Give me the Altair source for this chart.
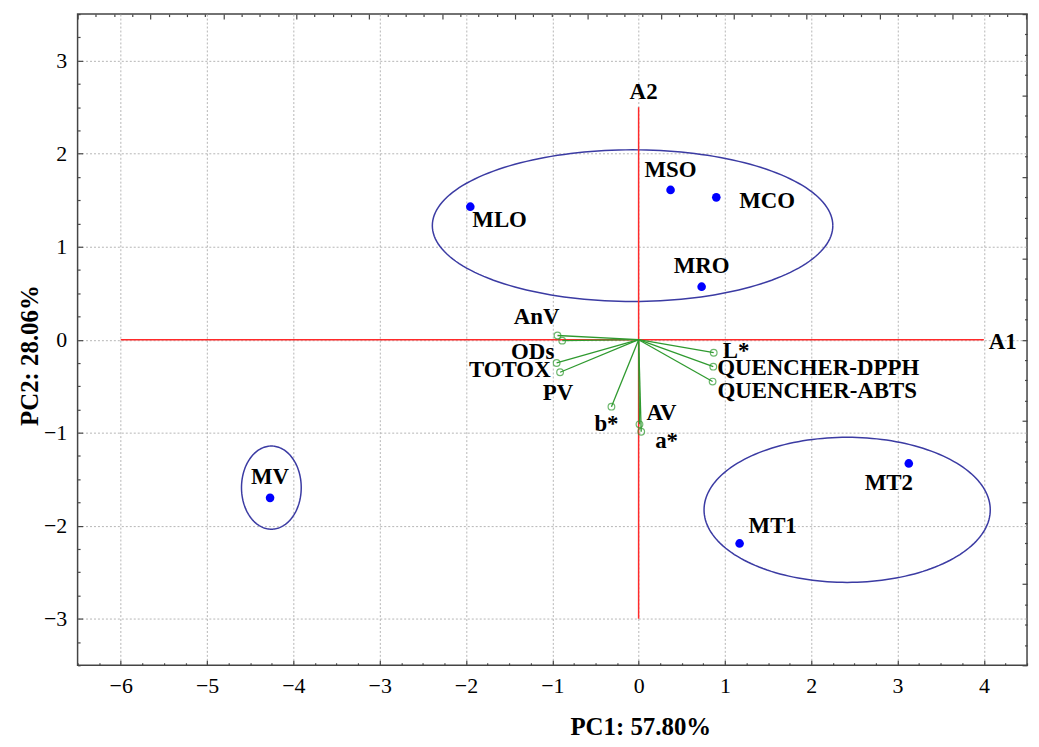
import altair as alt
import numpy as np
import pandas as pd

# ---------------- data ----------------
score_names = ["MLO", "MSO", "MCO", "MRO", "MV", "MT1", "MT2"]
score_pc1 = [-1.95, 0.37, 0.90, 0.73, -4.27, 1.17, 3.13]
score_pc2 = [1.43, 1.61, 1.53, 0.57, -1.70, -2.19, -1.33]

var_names = ["AnV", "ODs", "TOTOX", "PV", "b*", "AV", "a*", "L*",
             "QUENCHER-DPPH", "QUENCHER-ABTS"]
var_pc1 = [-0.94, -0.885, -0.95, -0.91, -0.315, 0.01, 0.03, 0.87, 0.865, 0.857]
var_pc2 = [0.045, -0.01, -0.25, -0.35, -0.72, -0.91, -0.99, -0.14, -0.29, -0.45]

ellipse_cx = [-0.07, -4.255, 2.416]
ellipse_cy = [1.226, -1.59, -1.829]
ellipse_rx = [2.32, 0.346, 1.658]
ellipse_ry = [0.815, 0.447, 0.780]

a1_x = [-6, 4]      # A1 line extent
a2_y = [-3, 2.5]    # A2 line extent

x_ticks = list(range(-6, 5))
y_ticks = list(range(-3, 4))

# ---------------- style ----------------
FONT = "Liberation Serif"
BLUE = "#0000ff"
NAVY = "#3b3ba3"
RED = "#ff2a2a"
GREEN = "#2f9a2f"

# label placement: (align, dx, dy)
score_place = {
    "MLO": ("left", 2, 13), "MSO": ("center", 0, -20), "MCO": ("left", 23, 4),
    "MRO": ("center", 0, -21), "MV": ("center", 0, -21), "MT1": ("left", 9, -17),
    "MT2": ("center", -20, 20),
}
var_place = {
    "AnV": ("right", 2, -19), "ODs": ("right", -8, 11), "TOTOX": ("right", -6, 7),
    "PV": ("center", -2, 21), "b*": ("center", -5, 17), "AV": ("left", 7, -11),
    "a*": ("left", 14, 9), "L*": ("left", 9, -2), "QUENCHER-DPPH": ("left", 4, 1),
    "QUENCHER-ABTS": ("left", 5, 10),
}

# ---------------- tables ----------------
scores = pd.DataFrame({"name": score_names, "pc1": score_pc1, "pc2": score_pc2})
loads = pd.DataFrame({"name": var_names, "pc1": var_pc1, "pc2": var_pc2,
                      "x0": 0.0, "y0": 0.0})

theta = np.linspace(0, 2 * np.pi, 181)
rows = []
for i, (cx, cy, rx, ry) in enumerate(zip(ellipse_cx, ellipse_cy, ellipse_rx, ellipse_ry)):
    for k, t in enumerate(theta):
        rows.append({"id": i, "k": k, "x": cx + rx * np.cos(t), "y": cy + ry * np.sin(t)})
ell = pd.DataFrame(rows)

red = pd.DataFrame({"x": [a1_x[0], 0], "x2": [a1_x[1], 0],
                    "y": [0, a2_y[0]], "y2": [0, a2_y[1]],
                    "name": ["A1", "A2"],
                    "lx": [a1_x[1], 0], "ly": [0, a2_y[1]]})

xs = alt.Scale(domain=[-6.5, 4.5], nice=False, zero=False)
ys = alt.Scale(domain=[-3.5, 3.5], nice=False, zero=False)

xaxis = alt.Axis(values=x_ticks, format="d", title="PC1: 57.80%", grid=True,
                 ticks=False, domain=False, labelPadding=10,
                 titleX=566, titleY=62, titleBaseline="middle")
yaxis = alt.Axis(values=y_ticks, format="d", title="PC2: 28.06%", grid=True,
                 ticks=False, domain=False, labelPadding=11,
                 titleX=-48, titleY=343, titleBaseline="middle")


def X(f):
    return alt.X(f, type="quantitative", scale=xs, axis=xaxis)


def Y(f):
    return alt.Y(f, type="quantitative", scale=ys, axis=yaxis)


ellipses = alt.Chart(ell).mark_line(color=NAVY, strokeWidth=1.5).encode(
    x=X("x"), y=Y("y"), detail="id:N", order="k:Q")

red_lines = alt.Chart(red).mark_rule(color=RED, strokeWidth=1.5).encode(
    x=X("x"), x2="x2", y=Y("y"), y2="y2")

green_lines = alt.Chart(loads).mark_rule(color=GREEN, strokeWidth=1.3).encode(
    x=X("x0"), x2="pc1", y=Y("y0"), y2="pc2")

green_pts = alt.Chart(loads).mark_point(shape="circle", filled=False, color=GREEN,
                                         strokeWidth=1.2, size=45).encode(
    x=X("pc1"), y=Y("pc2"))

blue_pts = alt.Chart(scores).mark_point(shape="circle", filled=True, color=BLUE,
                                        opacity=1, size=75).encode(
    x=X("pc1"), y=Y("pc2"))

text_layers = []
for df, place in ((scores, score_place), (loads, var_place)):
    for n, (al, dx, dy) in place.items():
        text_layers.append(
            alt.Chart(df).transform_filter(f"datum.name === '{n}'").mark_text(
                font=FONT, fontSize=23, fontWeight="bold", color="black",
                align=al, baseline="middle", dx=dx, dy=dy).encode(
                x=X("pc1"), y=Y("pc2"), text="name:N"))

axis_labels = [
    alt.Chart(red).transform_filter("datum.name === 'A1'").mark_text(
        font=FONT, fontSize=23, fontWeight="bold", color="black",
        align="left", baseline="middle", dx=5, dy=2).encode(
        x=X("lx"), y=Y("ly"), text="name:N"),
    alt.Chart(red).transform_filter("datum.name === 'A2'").mark_text(
        font=FONT, fontSize=23, fontWeight="bold", color="black",
        align="center", baseline="middle", dx=5, dy=-15).encode(
        x=X("lx"), y=Y("ly"), text="name:N"),
]

main = alt.layer(ellipses, red_lines, green_lines, green_pts, blue_pts,
                 *text_layers, *axis_labels)

# inward ticks (bottom/left) on the data scales
tick_expr = {"expr": "abs(datum.value % 1) < 1e-6 ? -5 : -2.5"}
frame_a = pd.DataFrame({"x": [-6.5, 4.5], "y": [-3.5, 3.5]})
ticks_a = alt.Chart(frame_a).mark_point(opacity=0).encode(
    x=alt.X("x:Q", scale=alt.Scale(domain=[-6.5, 4.5], nice=False, zero=False),
            axis=alt.Axis(orient="bottom", values=np.arange(-6.5, 4.51, 0.25).round(2).tolist(),
                          labels=False, grid=False, domain=False, title=None,
                          tickSize=tick_expr, tickColor="#444", tickWidth=1.2)),
    y=alt.Y("y:Q", scale=alt.Scale(domain=[-3.5, 3.5], nice=False, zero=False),
            axis=alt.Axis(orient="left", values=np.arange(-3.5, 3.51, 0.25).round(2).tolist(),
                          labels=False, grid=False, domain=False, title=None,
                          tickSize=tick_expr, tickColor="#444", tickWidth=1.2)))

# top/right tick frames (secondary scales)
top_max = 13.02
right_max = 8.0
frame_b = pd.DataFrame({"x": [0, top_max], "y": [0, right_max]})
ticks_b = alt.Chart(frame_b).mark_point(opacity=0).encode(
    x=alt.X("x:Q", scale=alt.Scale(domain=[0, top_max], nice=False, zero=False),
            axis=alt.Axis(orient="top", values=np.arange(0, top_max, 0.25).round(2).tolist(),
                          labels=False, grid=False, domain=False, title=None,
                          tickSize=tick_expr, tickColor="#444", tickWidth=1.2)),
    y=alt.Y("y:Q", scale=alt.Scale(domain=[0, right_max], nice=False, zero=False),
            axis=alt.Axis(orient="right", values=np.arange(0, right_max + 0.01, 0.25).round(2).tolist(),
                          labels=False, grid=False, domain=False, title=None,
                          tickSize=tick_expr, tickColor="#444", tickWidth=1.2)))

chart = alt.layer(main, ticks_a, ticks_b).resolve_scale(
    x="independent", y="independent"
).properties(
    width=955, height=655,
    padding={"left": 70, "top": 4, "right": 4, "bottom": 72},
    autosize=alt.AutoSizeParams(type="none"),
    background="white",
).configure_axis(
    labelFont=FONT, labelFontSize=22, labelColor="black",
    titleFont=FONT, titleFontSize=25, titleFontWeight="bold", titleColor="black",
    gridColor="#b5b5b5", gridDash=[2, 2], gridWidth=1,
).configure_view(stroke="#444", strokeWidth=1.5)

chart.save("out.html", embed_options={"renderer": "svg", "actions": False})
